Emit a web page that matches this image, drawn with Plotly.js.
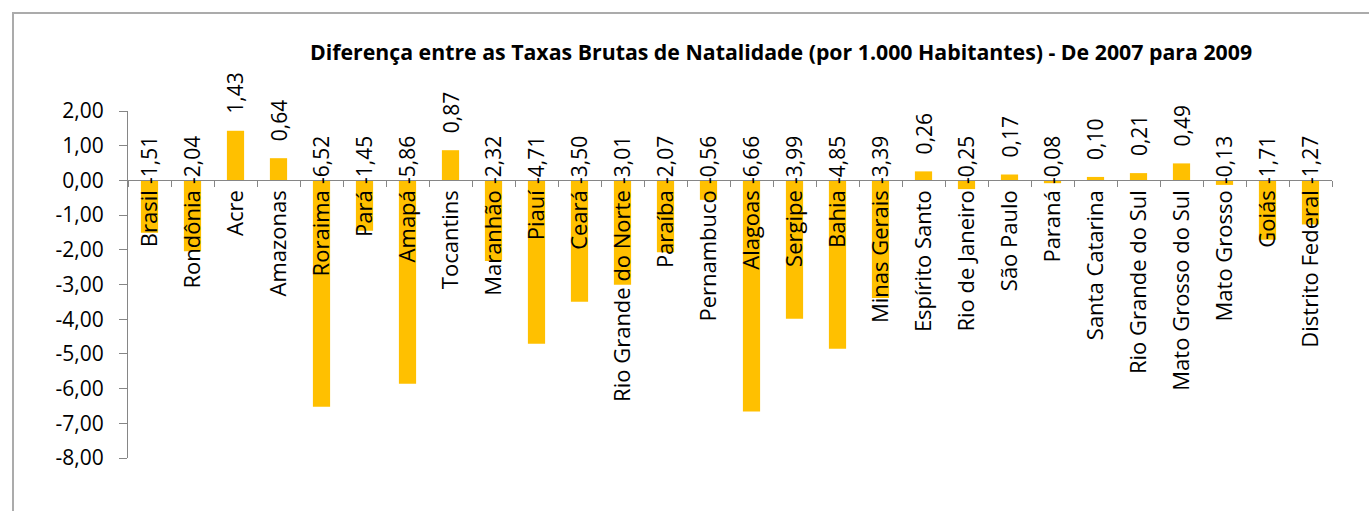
<!DOCTYPE html>
<html>
<head>
<meta charset="utf-8">
<script src="https://cdn.plot.ly/plotly-3.0.1.min.js"></script>
<style>
  html, body { margin: 0; padding: 0; background: #fff; }
  #wrap { position: relative; width: 1369px; height: 511px; overflow: hidden; }
  #chart { position: absolute; left: 0; top: 0; width: 1369px; height: 511px; }
  #frame { position: absolute; left: 12px; top: 12px; width: 1400px; height: 600px;
           border-left: 2px solid #ABABAB; border-top: 2px solid #ABABAB; pointer-events: none; }
</style>
</head>
<body>
<div id="wrap"><div id="chart"></div><div id="frame"></div></div>
<script>
const categories = ["Brasil", "Rondônia", "Acre", "Amazonas", "Roraima", "Pará", "Amapá",
  "Tocantins", "Maranhão", "Piauí", "Ceará", "Rio Grande do Norte", "Paraíba", "Pernambuco",
  "Alagoas", "Sergipe", "Bahia", "Minas Gerais", "Espírito Santo", "Rio de Janeiro",
  "São Paulo", "Paraná", "Santa Catarina", "Rio Grande do Sul", "Mato Grosso do Sul",
  "Mato Grosso", "Goiás", "Distrito Federal"];
const values = [-1.51, -2.04, 1.43, 0.64, -6.52, -1.45, -5.86, 0.87, -2.32, -4.71, -3.50,
  -3.01, -2.07, -0.56, -6.66, -3.99, -4.85, -3.39, 0.26, -0.25, 0.17, -0.08, 0.10, 0.21,
  0.49, -0.13, -1.71, -1.27];
const yTickValues = [2, 1, 0, -1, -2, -3, -4, -5, -6, -7, -8];
const titleText = "Diferença entre as Taxas Brutas de Natalidade (por 1.000 Habitantes) - De 2007 para 2009";

const FONT = "'Open Sans', 'Noto Sans', sans-serif";
const fmt = v => v.toFixed(2).replace(".", ",");

const annotations = values.map((v, i) => ({
  x: categories[i], y: Math.max(v, 0), xref: "x", yref: "y",
  text: fmt(v), showarrow: false, textangle: -90,
  xanchor: "center", yanchor: "bottom",
  yshift: v >= 0 ? 15 : -6,
  font: { family: FONT, size: 21, color: "#000" }
}));

const trace = {
  type: "bar", x: categories, y: values,
  marker: { color: "#FFC000" },
  width: 0.4, hoverinfo: "skip"
};

const layout = {
  width: 1369, height: 511,
  margin: { l: 128, r: 37, t: 110.6, b: 53.4 },
  paper_bgcolor: "rgba(0,0,0,0)", plot_bgcolor: "rgba(0,0,0,0)",
  showlegend: false,
  title: {
    text: "<b>" + titleText + "</b>",
    x: 781 / 1369, xanchor: "center", xref: "container",
    y: 1 - 53 / 511, yanchor: "middle", yref: "container",
    font: { family: FONT, size: 21.3, color: "#000" }
  },
  xaxis: {
    type: "category", anchor: "free", position: 0.8,
    showline: true, linecolor: "#868686", linewidth: 1,
    ticks: "outside", tickson: "boundaries", ticklen: 6, tickcolor: "#868686",
    tickangle: -90, showgrid: false, zeroline: false,
    tickfont: { family: FONT, size: 22, color: "#000" },
    ticklabelstandoff: 0
  },
  yaxis: {
    range: [-8, 2], tickvals: yTickValues, ticktext: yTickValues.map(fmt),
    showline: true, linecolor: "#868686", linewidth: 1,
    ticks: "outside", ticklen: 8, tickcolor: "#868686",
    showgrid: false, zeroline: false,
    tickfont: { family: FONT, size: 21, color: "#000" },
    ticklabelstandoff: 11
  },
  annotations: annotations
};

Plotly.newPlot("chart", [trace], layout, { displayModeBar: false, staticPlot: true });
</script>
</body>
</html>
